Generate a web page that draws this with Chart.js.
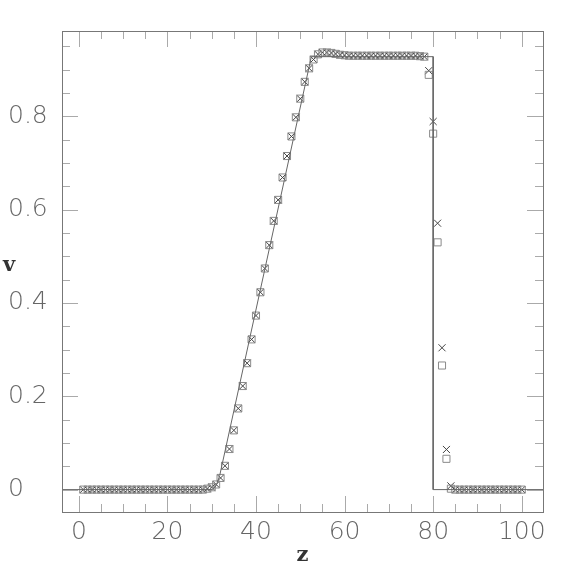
<!DOCTYPE html>
<html>
<head>
<meta charset="utf-8">
<script src="https://cdn.jsdelivr.net/npm/chart.js@4.4.1/dist/chart.umd.min.js"></script>
<style>
  html, body { margin: 0; padding: 0; background: #fff; }
  #wrap { width: 574px; height: 574px; }
</style>
</head>
<body>
<div id="wrap"><canvas id="plot"></canvas></div>
<script>
// Datos
const zGrid = [1,2,3,4,5,6,7,8,9,10,11,12,13,14,15,16,17,18,19,20,
  21,22,23,24,25,26,27,28,29,30,31,32,33,34,35,36,37,38,39,40,
  41,42,43,44,45,46,47,48,49,50,51,52,53,54,55,56,57,58,59,60,
  61,62,63,64,65,66,67,68,69,70,71,72,73,74,75,76,77,78,79,80,
  81,82,83,84,85,86,87,88,89,90,91,92,93,94,95,96,97,98,99,100];

const vCross = [0,0,0,0,0,0,0,0,0,0,0,0,0,0,0,0,0,0,0,0,
  0,0,0,0,0,0,0,0,0.002,0.005,0.011,0.025,0.051,0.087,0.127,0.174,0.222,0.271,0.322,0.373,
  0.423,0.474,0.524,0.576,0.621,0.669,0.715,0.757,0.798,0.838,0.874,0.903,0.922,0.933,0.937,0.937,0.936,0.934,0.932,0.931,
  0.930,0.930,0.930,0.930,0.930,0.930,0.930,0.930,0.930,0.930,0.930,0.930,0.930,0.930,0.930,0.930,0.929,0.928,0.898,0.789,
  0.571,0.304,0.086,0.008,0,0,0,0,0,0,0,0,0,0,0,0,0,0,0,0];

const vSquare = [0,0,0,0,0,0,0,0,0,0,0,0,0,0,0,0,0,0,0,0,
  0,0,0,0,0,0,0,0,0.002,0.005,0.011,0.025,0.051,0.087,0.127,0.174,0.222,0.271,0.322,0.373,
  0.423,0.474,0.524,0.576,0.621,0.669,0.715,0.757,0.798,0.838,0.874,0.903,0.922,0.933,0.937,0.937,0.936,0.934,0.932,0.931,
  0.930,0.930,0.930,0.930,0.930,0.930,0.930,0.930,0.930,0.930,0.930,0.930,0.930,0.930,0.930,0.930,0.929,0.928,0.889,0.763,
  0.530,0.266,0.066,0.002,0,0,0,0,0,0,0,0,0,0,0,0,0,0,0,0];

// Solución de referencia (línea continua)
const lineZ = [-4, 30.2, 31, 31.8, 52.5, 80, 80, 105];
const lineV = [0, 0, 0.008, 0.03, 0.928, 0.928, 0, 0];

// Ticks
const xTicks = [0, 20, 40, 60, 80, 100];
const yTicks = [0, 0.2, 0.4, 0.6, 0.8];

const toPts = (xs, ys) => xs.map((x, i) => ({ x, y: ys[i] }));

const tickFont = { family: "'DejaVu Sans', sans-serif", size: 25, weight: "200" };

// Marco, ticks menores/mayores hacia dentro y títulos de ejes
const marco = {
  id: "marco",
  afterDatasetsDraw(chart) {
    const { ctx, chartArea: a, scales: { x, y } } = chart;
    ctx.save();
    ctx.strokeStyle = "#aaa";
    ctx.lineWidth = 1;
    ctx.beginPath();
    for (let i = 0; i <= 20; i++) {
      const px = Math.round(x.getPixelForValue(i * 5)) + 0.5;
      const len = i % 4 === 0 ? 16 : 8;
      ctx.moveTo(px, a.bottom); ctx.lineTo(px, a.bottom - len);
      ctx.moveTo(px, a.top); ctx.lineTo(px, a.top + len);
    }
    for (let i = 0; i <= 19; i++) {
      const py = Math.round(y.getPixelForValue(i * 0.05)) + 0.5;
      const len = i % 4 === 0 ? 16 : 8;
      ctx.moveTo(a.left, py); ctx.lineTo(a.left + len, py);
      ctx.moveTo(a.right, py); ctx.lineTo(a.right - len, py);
    }
    ctx.stroke();

    ctx.strokeStyle = "#777";
    ctx.strokeRect(Math.round(a.left) + 0.5, Math.round(a.top) + 0.5,
      Math.round(a.right - a.left), Math.round(a.bottom - a.top));

    // títulos
    ctx.fillStyle = "#333";
    ctx.font = "bold 21px 'DejaVu Serif', serif";
    ctx.textAlign = "center";
    ctx.textBaseline = "middle";
    ctx.fillText("z", (a.left + a.right) / 2, 556);
    ctx.fillText("v", 9, 266);
    ctx.restore();
  }
};

new Chart(document.getElementById("plot"), {
  type: "scatter",
  data: {
    datasets: [
      {
        label: "exacta",
        data: toPts(lineZ, lineV),
        showLine: true,
        borderColor: "#666",
        borderWidth: 1,
        pointRadius: 0,
        fill: false
      },
      {
        label: "cuadrados",
        data: toPts(zGrid, vSquare),
        pointStyle: "rect",
        pointRadius: 5,
        borderColor: "#8a8a8a",
        backgroundColor: "rgba(0,0,0,0)",
        borderWidth: 1
      },
      {
        label: "cruces",
        data: toPts(zGrid, vCross),
        pointStyle: "crossRot",
        pointRadius: 5,
        borderColor: "#444",
        borderWidth: 1
      }
    ]
  },
  options: {
    responsive: true,
    maintainAspectRatio: false,
    animation: false,
    layout: { padding: { top: 31, right: 31, left: 8, bottom: 0 } },
    plugins: { legend: { display: false }, tooltip: { enabled: false } },
    scales: {
      x: {
        type: "linear",
        min: -3.8,
        max: 104.8,
        afterBuildTicks: s => { s.ticks = xTicks.map(v => ({ value: v })); },
        afterFit: s => { s.height = 62; },
        grid: { display: false, drawTicks: false },
        border: { display: false },
        ticks: { color: "#666", font: tickFont, padding: 5, maxRotation: 0, autoSkip: false,
          callback: v => String(v) }
      },
      y: {
        type: "linear",
        min: -0.048,
        max: 0.983,
        afterBuildTicks: s => { s.ticks = yTicks.map(v => ({ value: v })); },
        afterFit: s => { s.width = 54; },
        grid: { display: false, drawTicks: false },
        border: { display: false },
        ticks: { color: "#666", font: tickFont, crossAlign: "far", autoSkip: false,
          callback: v => v === 0 ? "0" : v.toFixed(1) }
      }
    }
  },
  plugins: [marco]
});
</script>
</body>
</html>
